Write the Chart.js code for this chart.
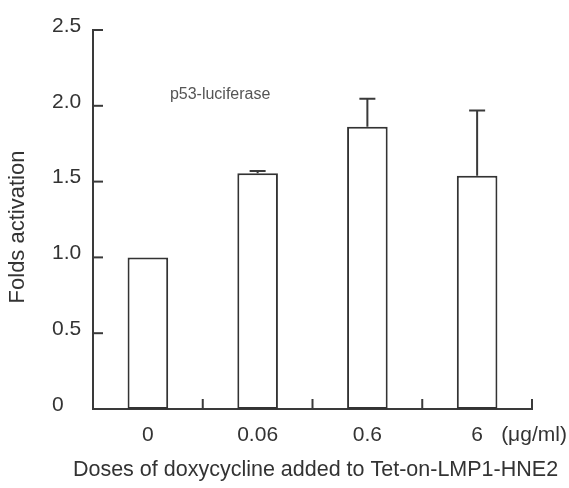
<!DOCTYPE html>
<html>
<head>
<meta charset="utf-8">
<script src="https://cdn.jsdelivr.net/npm/chart.js@4.4.1/dist/chart.umd.min.js"></script>
<style>
  html, body { margin: 0; padding: 0; background: #ffffff; }
  canvas { display: block; }
</style>
</head>
<body>
<canvas id="c" width="569" height="488"></canvas>
<script>
// ---- data ----
const categories = ['0', '0.06', '0.6', '6'];
const foldActivation = [1.0, 1.555, 1.862, 1.539];
const errorUp = [0, 0.015, 0.185, 0.43];
const yTickValues = [0, 0.5, 1.0, 1.5, 2.0, 2.5];
const yTickLabels = ['0', '0.5', '1.0', '1.5', '2.0', '2.5'];
const unitLabel = '(\u03BCg/ml)';
const annotationText = 'p53-luciferase';
const yTitle = 'Folds activation';
const xTitle = 'Doses of doxycycline added to Tet-on-LMP1-HNE2';

const FONT = "'Liberation Sans', Arial, Helvetica, sans-serif";
const TEXT = '#333333';
const LINE = '#3a3a3a';

const extras = {
  id: 'extras',
  afterDatasetsDraw(chart) {
    const { ctx, scales: { x, y } } = chart;
    ctx.save();
    ctx.strokeStyle = LINE;
    ctx.lineWidth = 2;
    // error bars (upper only)
    foldActivation.forEach((v, i) => {
      if (!errorUp[i]) return;
      const px = x.getPixelForValue(i);
      const top = y.getPixelForValue(v + errorUp[i]);
      const base = y.getPixelForValue(v);
      ctx.beginPath();
      ctx.moveTo(px, base);
      ctx.lineTo(px, top);
      ctx.moveTo(px - 8, top);
      ctx.lineTo(px + 8, top);
      ctx.stroke();
    });
    // inward ticks on y axis
    yTickValues.forEach(v => {
      if (v === 0) return;
      const py = y.getPixelForValue(v);
      ctx.beginPath();
      ctx.moveTo(x.left, py);
      ctx.lineTo(x.left + 10, py);
      ctx.stroke();
    });
    // inward ticks on x axis at category boundaries
    for (let i = 1; i <= categories.length; i++) {
      const px = x.getPixelForValue(i - 0.5);
      ctx.beginPath();
      ctx.moveTo(px, y.bottom);
      ctx.lineTo(px, y.bottom - 10);
      ctx.stroke();
    }
    // texts
    ctx.fillStyle = TEXT;
    ctx.textBaseline = 'middle';
    ctx.textAlign = 'left';
    ctx.font = '21px ' + FONT;
    ctx.fillText(unitLabel, x.getPixelForValue(categories.length - 1) + 24, y.bottom + 26);
    ctx.fillStyle = '#555555';
    ctx.font = '16px ' + FONT;
    ctx.fillText(annotationText, x.getPixelForValue(0) + 22, y.getPixelForValue(2.075));
    // x title
    ctx.fillStyle = TEXT;
    ctx.textAlign = 'center';
    ctx.font = '21.5px ' + FONT;
    ctx.fillText(xTitle, (x.left + x.right) / 2 + 3, y.bottom + 61);
    // y title
    ctx.font = '22px ' + FONT;
    ctx.translate(18, 227);
    ctx.rotate(-Math.PI / 2);
    ctx.fillText(yTitle, 0, 0);
    ctx.restore();
  }
};

new Chart(document.getElementById('c'), {
  type: 'bar',
  data: {
    labels: categories,
    datasets: [{
      data: foldActivation,
      backgroundColor: '#ffffff',
      borderColor: '#333333',
      borderWidth: 2,
      borderSkipped: false,
      barPercentage: 0.37,
      categoryPercentage: 1.0
    }]
  },
  options: {
    responsive: false,
    animation: false,
    devicePixelRatio: 1,
    layout: { padding: { left: 52, right: 37, top: 30, bottom: 0 } },
    plugins: { legend: { display: false }, tooltip: { enabled: false } },
    scales: {
      x: {
        grid: { display: false, drawTicks: false },
        border: { display: true, color: LINE, width: 2 },
        ticks: { color: TEXT, font: { family: FONT, size: 21 }, padding: 14, maxRotation: 0 },
        afterFit(scale) { scale.height = 79; }
      },
      y: {
        min: 0,
        max: 2.5,
        grid: { display: false, drawTicks: false },
        border: { display: true, color: LINE, width: 2 },
        afterBuildTicks(scale) { scale.ticks = yTickValues.map(v => ({ value: v })); },
        ticks: {
          color: TEXT,
          font: { family: FONT, size: 21 },
          crossAlign: 'far',
          labelOffset: -4,
          padding: 11,
          callback: (v) => yTickLabels[yTickValues.indexOf(v)]
        },
        afterFit(scale) { scale.width = 41; }
      }
    }
  },
  plugins: [extras]
});
</script>
</body>
</html>
